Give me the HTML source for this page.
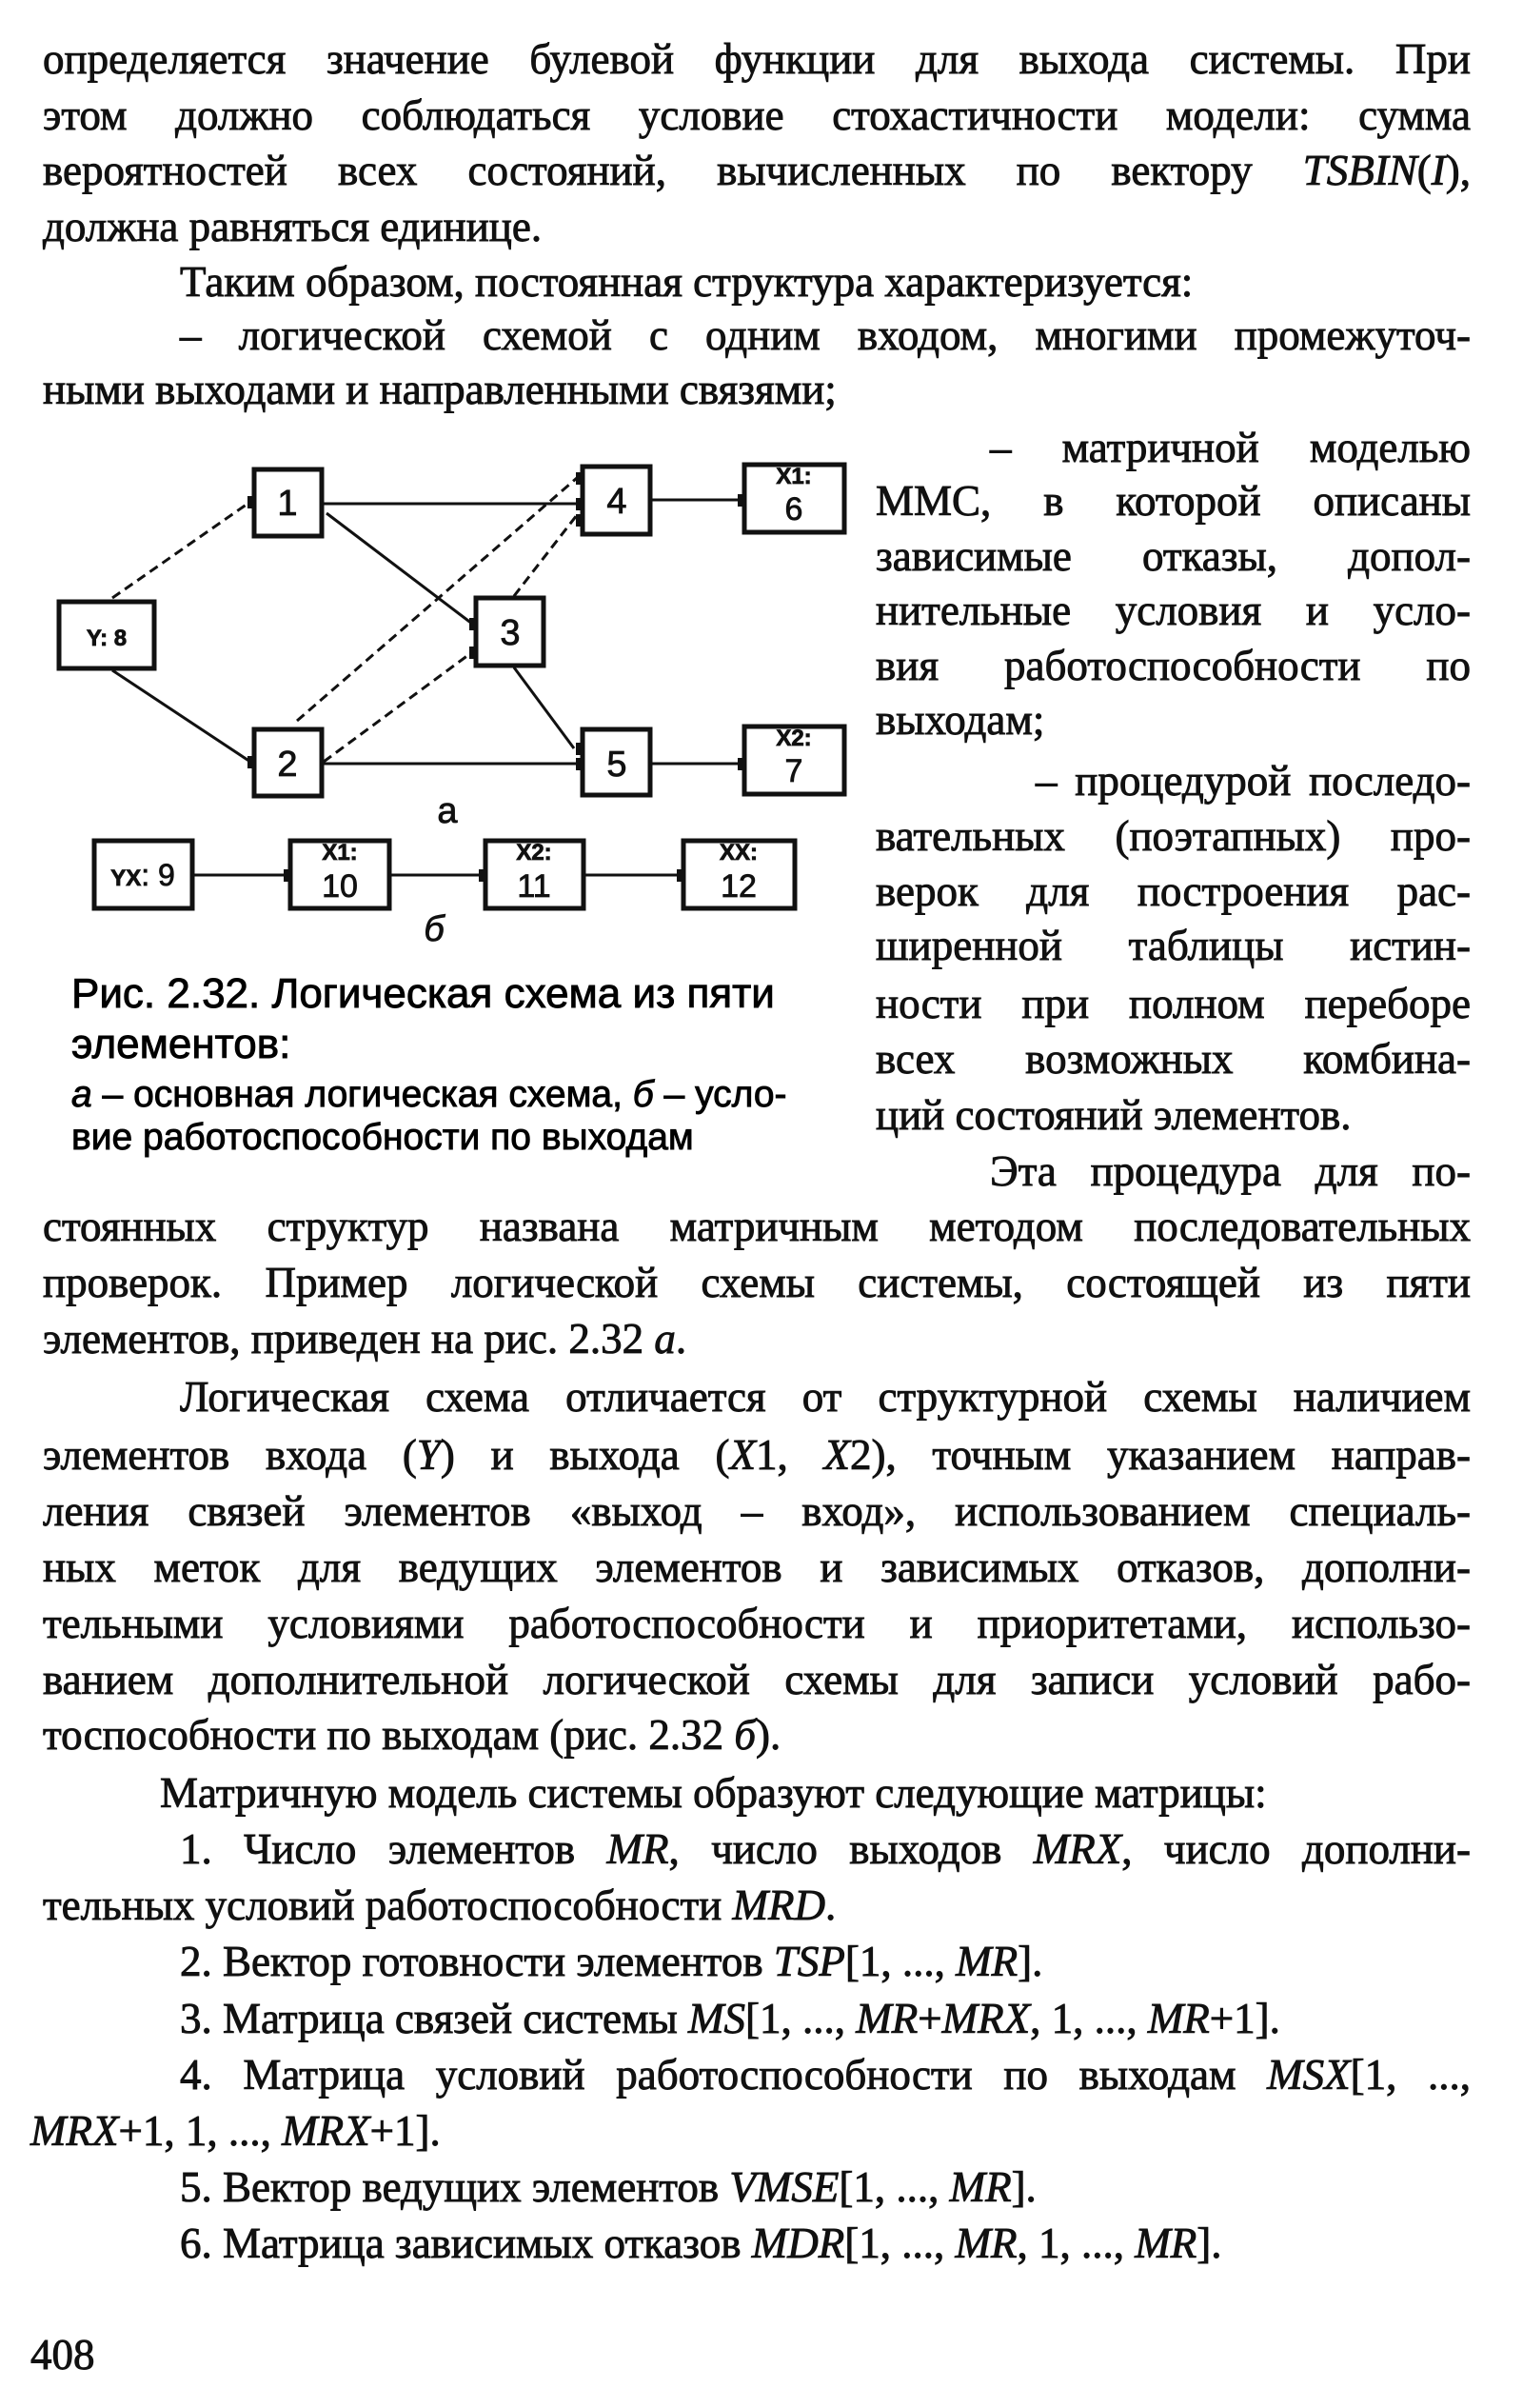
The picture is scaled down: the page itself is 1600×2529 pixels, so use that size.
<!DOCTYPE html>
<html><head><meta charset="utf-8"><style>
body{margin:0;background:#fff;}
#p{position:relative;width:1600px;height:2529px;overflow:hidden;background:#fff;color:#111;font-family:"Liberation Serif","Noto Serif CJK SC",serif;}
.l{position:absolute;left:45px;width:1500px;height:50px;line-height:50px;font-size:45px;white-space:nowrap;-webkit-text-stroke:0.9px #111;}
.j{text-align:justify;text-align-last:justify;white-space:normal;}
.i{left:189px;width:1356px;}
.r{left:920px;width:625px;}
.c{position:absolute;left:75px;font-family:"Liberation Sans",sans-serif;color:#000;white-space:nowrap;-webkit-text-stroke:0.9px #000;}
svg{position:absolute;left:0;top:0;}
</style></head><body><div id="p">
<div class="l j" style="top:37px">определяется значение булевой функции для выхода системы. При</div>
<div class="l j" style="top:96px">этом должно соблюдаться условие стохастичности модели: сумма</div>
<div class="l j" style="top:154px">вероятностей всех состояний, вычисленных по вектору <i>TSBIN</i>(<i>I</i>),</div>
<div class="l" style="top:213px">должна равняться единице.</div>
<div class="l i" style="top:271px">Таким образом, постоянная структура характеризуется:</div>
<div class="l j i" style="top:327px">– логической схемой с одним входом, многими промежуточ-</div>
<div class="l" style="top:384px">ными выходами и направленными связями;</div>
<div class="l j" style="top:445px;left:1040px;width:505px">– матричной моделью</div>
<div class="l j r" style="top:501px">ММС, в которой описаны</div>
<div class="l j r" style="top:559px">зависимые отказы, допол-</div>
<div class="l j r" style="top:616px">нительные условия и усло-</div>
<div class="l j r" style="top:674px">вия работоспособности по</div>
<div class="l r" style="top:731px">выходам;</div>
<div class="l j" style="top:795px;left:1088px;width:457px">– процедурой последо-</div>
<div class="l j r" style="top:853px">вательных (поэтапных) про-</div>
<div class="l j r" style="top:911px">верок для построения рас-</div>
<div class="l j r" style="top:968px">ширенной таблицы истин-</div>
<div class="l j r" style="top:1029px">ности при полном переборе</div>
<div class="l j r" style="top:1087px">всех возможных комбина-</div>
<div class="l r" style="top:1146px">ций состояний элементов.</div>
<div class="l j" style="top:1205px;left:1040px;width:505px">Эта процедура для по-</div>
<div class="l j" style="top:1263px">стоянных структур названа матричным методом последовательных</div>
<div class="l j" style="top:1322px">проверок. Пример логической схемы системы, состоящей из пяти</div>
<div class="l" style="top:1381px">элементов, приведен на рис. 2.32 <i>а</i>.</div>
<div class="l j i" style="top:1442px">Логическая схема отличается от структурной схемы наличием</div>
<div class="l j" style="top:1503px">элементов входа (<i>Y</i>) и выхода (<i>X</i>1, <i>X</i>2), точным указанием направ-</div>
<div class="l j" style="top:1562px">ления связей элементов «выход – вход», использованием специаль-</div>
<div class="l j" style="top:1621px">ных меток для ведущих элементов и зависимых отказов, дополни-</div>
<div class="l j" style="top:1680px">тельными условиями работоспособности и приоритетами, использо-</div>
<div class="l j" style="top:1739px">ванием дополнительной логической схемы для записи условий рабо-</div>
<div class="l" style="top:1797px">тоспособности по выходам (рис. 2.32 <i>б</i>).</div>
<div class="l" style="top:1858px;left:168px">Матричную модель системы образуют следующие матрицы:</div>
<div class="l j i" style="top:1917px">1. Число элементов <i>MR</i>, число выходов <i>MRX</i>, число дополни-</div>
<div class="l" style="top:1976px">тельных условий работоспособности <i>MRD</i>.</div>
<div class="l i" style="top:2035px">2. Вектор готовности элементов <i>TSP</i>[1, ..., <i>MR</i>].</div>
<div class="l i" style="top:2095px">3. Матрица связей системы <i>MS</i>[1, ..., <i>MR</i>+<i>MRX</i>, 1, ..., <i>MR</i>+1].</div>
<div class="l j i" style="top:2154px">4. Матрица условий работоспособности по выходам <i>MSX</i>[1, ...,</div>
<div class="l" style="top:2213px;left:32px"><i>MRX</i>+1, 1, ..., <i>MRX</i>+1].</div>
<div class="l i" style="top:2272px">5. Вектор ведущих элементов <i>VMSE</i>[1, ..., <i>MR</i>].</div>
<div class="l i" style="top:2331px">6. Матрица зависимых отказов <i>MDR</i>[1, ..., <i>MR</i>, 1, ..., <i>MR</i>].</div>
<div class="l" style="top:2448px;left:32px">408</div>

<div class="c" style="top:1018px;font-size:44px;line-height:52px">Рис. 2.32. Логическая схема из пяти</div>
<div class="c" style="top:1071px;font-size:44px;line-height:52px">элементов:</div>
<div class="c" style="top:1127px;font-size:39px;line-height:46px"><i>а</i> – основная логическая схема, <i>б</i> – усло-</div>
<div class="c" style="top:1172px;font-size:39px;line-height:46px">вие работоспособности по выходам</div>

<svg width="1600" height="2529" font-family="Liberation Sans, sans-serif">
<g stroke="#111" fill="none" stroke-width="3">
<line x1="118" y1="628" x2="263" y2="527" stroke-dasharray="10,6"/>
<line x1="118" y1="704" x2="263" y2="800"/>
<line x1="338" y1="529" x2="609" y2="529"/>
<line x1="343" y1="539" x2="496" y2="655"/>
<line x1="312" y1="757" x2="606" y2="502" stroke-dasharray="10,6"/>
<line x1="340" y1="800" x2="496" y2="685" stroke-dasharray="10,6"/>
<line x1="540" y1="626" x2="606" y2="541" stroke-dasharray="10,6"/>
<line x1="338" y1="802" x2="609" y2="802"/>
<line x1="540" y1="701" x2="603" y2="786"/>
<line x1="683" y1="525" x2="782" y2="525"/>
<line x1="683" y1="802" x2="782" y2="802"/>
<line x1="202" y1="919" x2="305" y2="919"/>
<line x1="409" y1="919" x2="510" y2="919"/>
<line x1="613" y1="919" x2="718" y2="919"/>
</g>
<g stroke="#111" fill="#fff" stroke-width="5">
<rect x="62" y="632" width="100" height="70"/>
<rect x="267" y="493" width="71" height="70"/>
<rect x="267" y="766" width="71" height="70"/>
<rect x="500" y="628" width="71" height="71"/>
<rect x="612" y="490" width="71" height="71"/>
<rect x="612" y="766" width="71" height="69"/>
<rect x="782" y="488" width="105" height="71"/>
<rect x="782" y="763" width="105" height="71"/>
<rect x="99" y="883" width="103" height="71"/>
<rect x="305" y="883" width="104" height="71"/>
<rect x="510" y="883" width="103" height="71"/>
<rect x="718" y="883" width="117" height="71"/>
</g>
<g fill="#111">
<rect x="260" y="521" width="8" height="13"/>
<rect x="260" y="794" width="8" height="13"/>
<rect x="493" y="649" width="8" height="13"/>
<rect x="493" y="679" width="8" height="13"/>
<rect x="605" y="496" width="8" height="13"/>
<rect x="605" y="523" width="8" height="13"/>
<rect x="605" y="540" width="8" height="13"/>
<rect x="605" y="780" width="8" height="13"/>
<rect x="605" y="796" width="8" height="13"/>
<rect x="775" y="519" width="8" height="13"/>
<rect x="775" y="796" width="8" height="13"/>
<rect x="298" y="913" width="8" height="13"/>
<rect x="503" y="913" width="8" height="13"/>
<rect x="711" y="913" width="8" height="13"/>
</g>
<g fill="#111" text-anchor="middle" font-size="38" stroke="#111" stroke-width="0.8">
<text x="112" y="678" font-size="24" font-weight="bold">Y: 8</text>
<text x="302" y="541">1</text>
<text x="302" y="815">2</text>
<text x="536" y="677">3</text>
<text x="648" y="539">4</text>
<text x="648" y="815">5</text>
<text x="834" y="508" font-size="24" font-weight="bold">X1:</text>
<text x="834" y="546" font-size="34">6</text>
<text x="834" y="783" font-size="24" font-weight="bold">X2:</text>
<text x="834" y="821" font-size="34">7</text>
<text x="150" y="930" font-size="32"><tspan font-weight="bold" font-size="24">YX</tspan>: 9</text>
<text x="357" y="903" font-size="24" font-weight="bold">X1:</text>
<text x="357" y="942" font-size="34">10</text>
<text x="561" y="903" font-size="24" font-weight="bold">X2:</text>
<text x="561" y="942" font-size="34">11</text>
<text x="776" y="903" font-size="24" font-weight="bold">XX:</text>
<text x="776" y="942" font-size="34">12</text>
<text x="470" y="864" font-size="38">а</text>
<text x="456" y="988" font-size="38" font-style="italic">б</text>
</g>
</svg>
</div></body></html>
